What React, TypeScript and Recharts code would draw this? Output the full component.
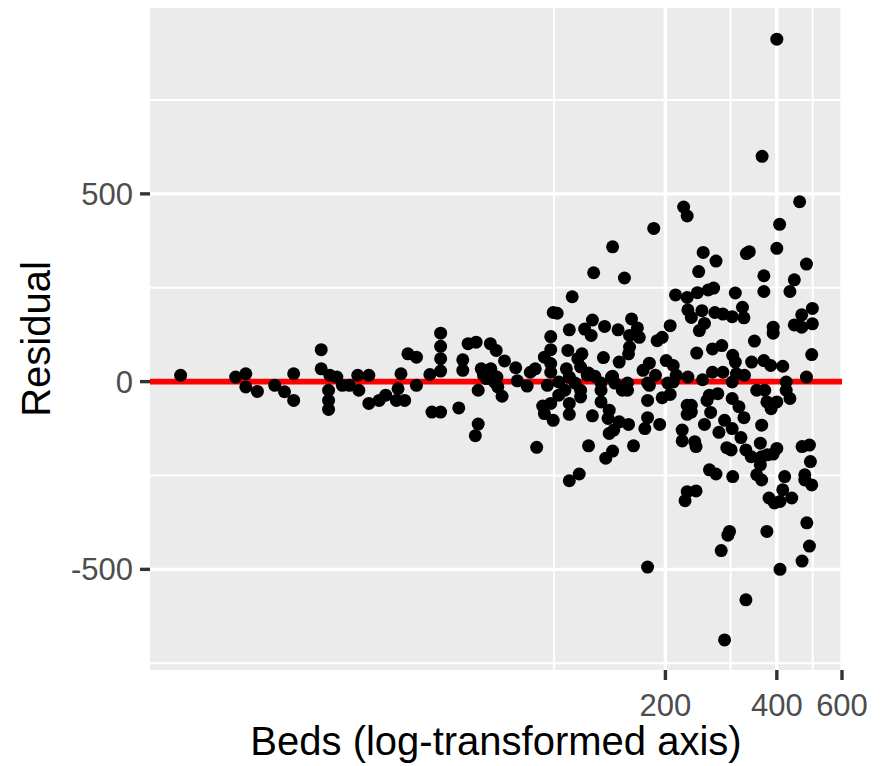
import React from 'react';
import { ScatterChart, Scatter, XAxis, YAxis, CartesianGrid, ReferenceLine } from 'recharts';

// beds (x, log scale) and residual (y), same order
const beds = [
  9.8, 13.8, 14.7, 14.7, 15.8, 17.6, 18.7, 19.8, 19.8, 23.5, 23.5, 24.8, 24.6, 24.6, 24.6, 25.9,
  26.8, 28, 29.5, 29.7, 31.6, 31.6, 33.7, 35.1, 37.5, 38.6, 39.5, 37.9, 40.3, 42.5, 42.5,
  49.4, 49.4, 49.4, 49.4, 46.2, 46.8, 49.4, 55.3, 56.7, 56.7, 58.6, 61.6, 62.4, 62.4, 61.3, 63.6,
  64.5, 67.3, 69.8, 67.5, 68.4, 69, 70.5, 72.4, 73.5, 78.8, 79.6, 84.6, 86.3, 89, 89.8, 93.2,
  94.2, 98, 99.5, 94.2, 98, 98, 98, 98, 96, 99.5, 65.8, 70.1,
  224, 229, 186, 144, 128, 155, 112, 102, 213, 229, 230, 235, 127, 110, 121, 126,
  137, 149, 162, 168, 160, 170, 160, 159, 190, 196, 206, 109, 116, 119, 136, 150,
  108, 118, 124, 129, 144, 174, 181, 188, 201, 210, 214, 230, 103, 114, 134, 146,
  158, 179, 203,
  110, 123, 143, 107, 103, 110, 110, 118, 118, 127, 134, 134, 141, 140, 150, 159,
  141, 145, 153, 158, 124, 138, 144, 164, 110, 117, 179, 179, 176, 181, 193, 196,
  206, 210, 222, 222, 229, 229, 229, 226, 179,
  461, 407, 400, 253, 274, 246, 331, 337, 481, 446, 369, 369, 434, 244, 261, 270,
  309, 323, 326, 303, 286, 272, 251, 255, 247, 499, 467, 499, 446, 467, 391, 391,
  348, 243, 268, 284, 304, 309, 342, 369, 385, 415, 497, 252, 268, 286, 311, 327, 481,
  303, 424, 235, 235, 263, 277, 259, 303, 353, 371, 376, 386, 400, 424, 434, 316,
  326, 265, 255, 289, 303, 279, 320, 364, 240, 242, 293, 301, 330, 341, 361, 364,
  377, 400, 391, 361, 468, 490, 493, 263, 274, 242, 304, 353, 364, 420, 476, 476,
  497, 415, 381, 394, 408, 439, 482, 490, 468, 408, 376, 298, 295, 283,
  330, 289, 400, 365,
];

const residual = [
  17, 12, 21, -14, -26, -10, -27, 21, -50, 85, 34, 17, -23, -50, -74, 12,
  -10, -10, 17, -23, 17, -58, -50, -36, -50, 21, -50, -19, 74, 65, -10,
  129, 94, 61, 28, 19, -81, -81, -70, 58, 30, 101, 105, -23, -113, -144, 34,
  17, 101, 83, 34, 17, -1, -14, -39, 55, 37, 2, -12, 25, 34, -175, -65,
  -85, -58, -103, 65, 120, 85, 48, 25, -10, 184, 8, 12,
  465, 441, 408, 359, 290, 276, 226, 182, 231, 224, 191, 171, 164, 138, 140, 123,
  147, 138, 167, 143, 123, 118, 92, 74, 109, 118, 149, 83, 61, 74, 64, 52,
  34, 39, 23, 14, 14, 30, 49, 17, 56, 43, 17, 12, -1, -4, -4, -4,
  -4, -4, -4,
  12, 17, 12, -23, -36, -58, -87, -41, -23, -91, -23, -54, -76, -98, -107, -114,
  -138, -129, -23, -23, -171, -204, -185, -171, -264, -246, -50, -96, -125, -10, -114, -43,
  -34, -1, -129, -158, -63, -87, -293, -317, -494,
  479, 419, 355, 344, 321, 293, 341, 346, 313, 271, 282, 240, 240, 237, 244, 249,
  236, 198, 170, 173, 180, 184, 189, 155, 136, 195, 178, 154, 151, 145, 145, 129,
  108, 76, 87, 96, 70, 52, 52, 56, 43, 41, 72, 5, 25, 25, 21, 17, 12,
  -1, -1, -63, -81, -36, -32, -50, -45, -23, -23, -54, -72, -54, -23, -45, -67,
  -96, -82, -114, -103, -125, -135, -149, -116, -160, -173, -176, -182, -182, -200, -164, -200,
  -195, -178, -193, -222, -173, -169, -213, -235, -246, -291, -253, -248, -262, -253, -248, -262,
  -275, -288, -310, -323, -319, -310, -376, -438, -478, -500, -399, -399, -409, -450,
  -581, -688, 912, 600,
];

const xTicks = [200, 400, 600];
const xMinorBreaks = [100, 300, 500];
const yTicks = [-500, 0, 500];
const yMinorBreaks = [-750, -250, 250, 750];

const data = beds.map((b, i) => ({ beds: b, residual: residual[i] }));

const FONT = '"Liberation Sans", Arial, Helvetica, sans-serif';

const Dot = (props: any) => <circle cx={props.cx} cy={props.cy} r={6.5} fill="#000000" />;

export default function App() {
  return (
    <div style={{ position: 'absolute', left: 0, top: 0, width: 881, height: 766, background: '#ffffff' }}>
      <ScatterChart width={881} height={766} margin={{ top: 8, right: 39, bottom: 0, left: 0 }}>
        <CartesianGrid
          fill="#EBEBEB"
          stroke="#FFFFFF"
          strokeWidth={2}
          horizontalValues={yMinorBreaks}
          verticalValues={xMinorBreaks}
        />
        <CartesianGrid stroke="#FFFFFF" strokeWidth={3.4} horizontalValues={yTicks} verticalValues={xTicks} />
        <XAxis
          dataKey="beds"
          type="number"
          scale="log"
          domain={[8.1, 600]}
          allowDataOverflow
          ticks={xTicks}
          interval={0}
          height={96}
          tickSize={10}
          tickMargin={14}
          axisLine={false}
          tickLine={{ stroke: '#333333', strokeWidth: 3.4 }}
          tick={{ fill: '#4D4D4D', fontSize: 31, fontFamily: FONT }}
        />
        <YAxis
          dataKey="residual"
          type="number"
          domain={[-768, 995]}
          allowDataOverflow
          ticks={yTicks}
          interval={0}
          width={150}
          tickSize={10}
          tickMargin={7}
          axisLine={false}
          tickLine={{ stroke: '#333333', strokeWidth: 3.4 }}
          tick={{ fill: '#4D4D4D', fontSize: 31, fontFamily: FONT }}
        />
        <Scatter data={data} shape={Dot} isAnimationActive={false} />
        <ReferenceLine y={0} stroke="#FF0000" strokeWidth={5.7} />
      </ScatterChart>
      <svg
        width={881}
        height={766}
        style={{ position: 'absolute', left: 0, top: 0, pointerEvents: 'none' }}
        fontFamily={FONT}
      >
        <text x={496} y={755} textAnchor="middle" fontSize={40} fill="#000000">
          Beds (log-transformed axis)
        </text>
        <text transform="translate(50,339) rotate(-90)" textAnchor="middle" fontSize={40} fill="#000000">
          Residual
        </text>
      </svg>
    </div>
  );
}
